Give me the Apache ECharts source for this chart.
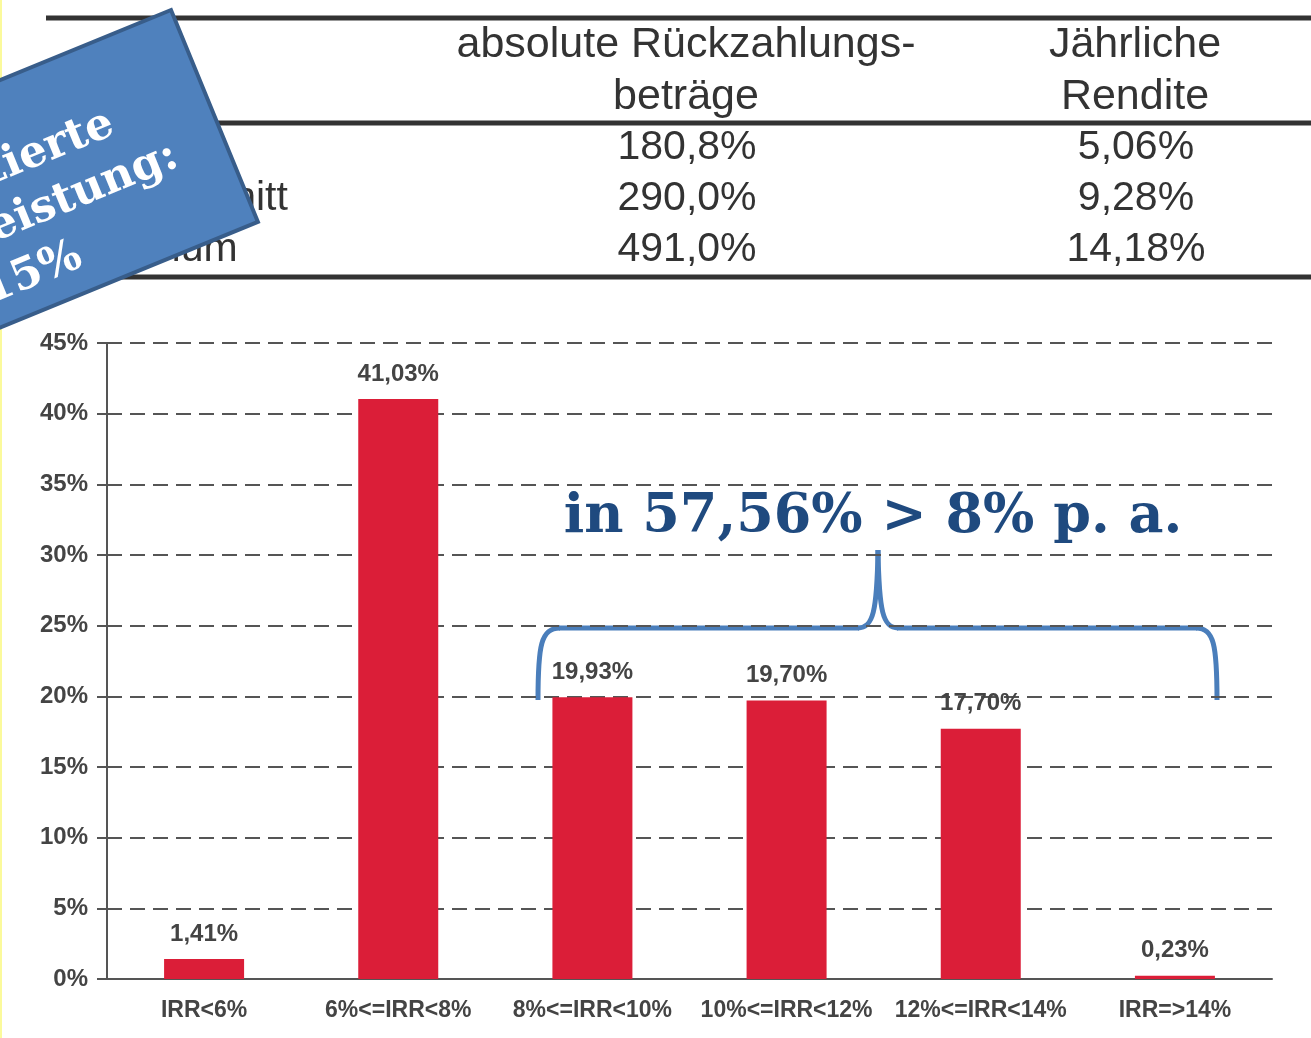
<!DOCTYPE html>
<html>
<head>
<meta charset="utf-8">
<title>IRR Verteilung</title>
<script src="https://cdn.jsdelivr.net/npm/echarts@6/dist/echarts.min.js"></script>
<style>
  html, body { margin: 0; padding: 0; background: #fff; }
  #chart { width: 1311px; height: 1038px; }
</style>
</head>
<body>
<div id="chart"></div>
<script>
// Daten
var categories = ['IRR<6%', '6%<=IRR<8%', '8%<=IRR<10%', '10%<=IRR<12%', '12%<=IRR<14%', 'IRR=>14%'];
var shares = [1.41, 41.03, 19.93, 19.70, 17.70, 0.23];

// Tabelle oben
var headPayout = ['absolute Rückzahlungs-', 'beträge'];
var headYield = ['Jährliche', 'Rendite'];
var rowLabels = ['Minimum', 'Durchschnitt', 'Maximum'];
var payouts = ['180,8%', '290,0%', '491,0%'];
var yields = ['5,06%', '9,28%', '14,18%'];

// Hinweise
var boxLines = ['Prognostizierte', 'Rückzahlungsleistung:', 'ca. 15%'];
var braceText = 'in 57,56% > 8% p. a.';

var sans = '"Liberation Sans", Arial, sans-serif';
var serif = '"DejaVu Serif", serif';

function pct(v) {
    return v.toFixed(2).replace('.', ',') + '%';
}

var myChart = echarts.init(document.getElementById('chart'));

// Tabelle als Grafik
var tableEls = [];
[18, 123, 277].forEach(function (y) {
    tableEls.push({
        type: 'line',
        shape: { x1: 46, y1: y, x2: 1311, y2: y },
        style: { stroke: '#333', lineWidth: 5 }
    });
});
headPayout.forEach(function (t, i) {
    tableEls.push({
        type: 'text',
        style: { text: t, x: 686, y: 45 + i * 52, font: '43px ' + sans, fill: '#333', align: 'center', verticalAlign: 'middle' }
    });
});
headYield.forEach(function (t, i) {
    tableEls.push({
        type: 'text',
        style: { text: t, x: 1135, y: 45 + i * 52, font: '43px ' + sans, fill: '#333', align: 'center', verticalAlign: 'middle' }
    });
});
rowLabels.forEach(function (t, i) {
    var y = 148 + i * 51;
    tableEls.push({
        type: 'text',
        style: { text: t, x: 60, y: y, font: '41px ' + sans, fill: '#333', align: 'left', verticalAlign: 'middle' }
    });
    tableEls.push({
        type: 'text',
        style: { text: payouts[i], x: 687, y: y, font: '41px ' + sans, fill: '#333', align: 'center', verticalAlign: 'middle' }
    });
    tableEls.push({
        type: 'text',
        style: { text: yields[i], x: 1136, y: y, font: '41px ' + sans, fill: '#333', align: 'center', verticalAlign: 'middle' }
    });
});

// blaues gedrehtes Kästchen
var boxRight = [-97, -50, -177];
var boxY = [82, 136, 192];
var boxGroup = {
    type: 'group',
    x: 171,
    y: 10,
    rotation: 22.3 * Math.PI / 180,
    z: 100,
    children: [{
        type: 'rect',
        shape: { x: -500, y: 0, width: 500, height: 229 },
        style: { fill: '#4f81bd', stroke: '#385d8a', lineWidth: 4 }
    }].concat(boxLines.map(function (t, i) {
        return {
            type: 'text',
            style: {
                text: t, x: boxRight[i], y: boxY[i],
                font: 'bold 44px ' + serif, fill: '#fff',
                align: 'right', verticalAlign: 'middle'
            }
        };
    }))
};

// geschweifte Klammer
var braceStyle = { fill: 'none', stroke: '#4a7ebb', lineWidth: 5 };
var brace = {
    type: 'group',
    z: 50,
    children: [
        { type: 'bezierCurve', shape: { x1: 538, y1: 700, cpx1: 538, cpy1: 645, cpx2: 541, cpy2: 628, x2: 560, y2: 628 }, style: braceStyle },
        { type: 'line', shape: { x1: 559, y1: 628, x2: 859, y2: 628 }, style: braceStyle },
        { type: 'bezierCurve', shape: { x1: 858, y1: 628, cpx1: 873, cpy1: 628, cpx2: 877, cpy2: 612, x2: 878, y2: 550 }, style: braceStyle },
        { type: 'bezierCurve', shape: { x1: 878, y1: 550, cpx1: 879, cpy1: 612, cpx2: 883, cpy2: 628, x2: 898, y2: 628 }, style: braceStyle },
        { type: 'line', shape: { x1: 897, y1: 628, x2: 1197, y2: 628 }, style: braceStyle },
        { type: 'bezierCurve', shape: { x1: 1196, y1: 628, cpx1: 1214, cpy1: 628, cpx2: 1217, cpy2: 645, x2: 1217, y2: 700 }, style: braceStyle }
    ]
};

var option = {
    animation: false,
    backgroundColor: '#fff',
    grid: { left: 107, right: 39, top: 343, bottom: 59 },
    xAxis: {
        type: 'category',
        data: categories,
        axisLine: { lineStyle: { color: '#555', width: 2 } },
        axisTick: { length: 9, lineStyle: { color: '#555', width: 2 } },
        axisLabel: {
            margin: 20,
            fontSize: 23,
            fontWeight: 'bold',
            fontFamily: sans,
            color: '#444',
            interval: 0
        }
    },
    yAxis: {
        type: 'value',
        min: 0,
        max: 45,
        interval: 5,
        axisLine: { show: true, lineStyle: { color: '#555', width: 2 } },
        axisTick: { show: true, length: 10, lineStyle: { color: '#555', width: 2 } },
        axisLabel: {
            margin: 19,
            formatter: '{value}%',
            fontSize: 24,
            fontWeight: 'bold',
            fontFamily: sans,
            color: '#444'
        },
        splitLine: {
            lineStyle: { color: '#555', width: 2, type: [15, 8] }
        }
    },
    series: [{
        type: 'bar',
        data: shares,
        barWidth: 80,
        itemStyle: { color: '#db1e38' },
        label: {
            show: true,
            position: 'top',
            distance: 13,
            formatter: function (p) { return pct(p.value); },
            fontSize: 24,
            fontWeight: 'bold',
            fontFamily: sans,
            color: '#444'
        }
    }],
    graphic: [
        {
            type: 'rect',
            shape: { x: 0, y: 0, width: 2, height: 1038 },
            style: { fill: '#fbfa9c' }
        },
        { type: 'group', children: tableEls },
        boxGroup,
        brace,
        {
            type: 'text',
            z: 50,
            style: {
                text: braceText, x: 873, y: 518,
                font: 'bold 54px ' + serif, fill: '#1f4a7f',
                align: 'center', verticalAlign: 'middle'
            }
        }
    ]
};

myChart.setOption(option);
</script>
</body>
</html>
